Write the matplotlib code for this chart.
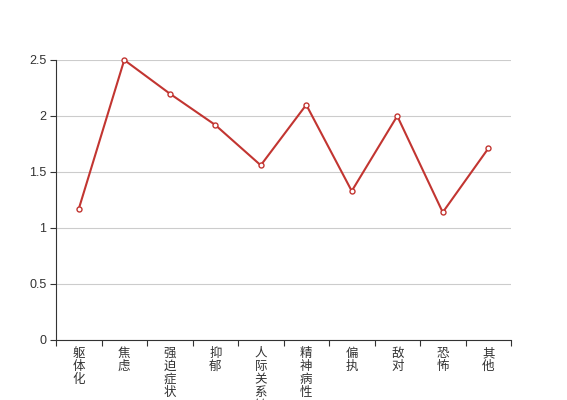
import matplotlib
matplotlib.use("Agg")
import matplotlib.pyplot as plt
import numpy as np

plt.rcParams['font.family'] = ['Noto Sans CJK SC', 'DejaVu Sans']

categories = ["躯体化", "焦虑", "强迫症状", "抑郁", "人际关系敏感", "精神病性", "偏执", "敌对", "恐怖", "其他"]
values = [1.17, 2.5, 2.2, 1.92, 1.56, 2.1, 1.33, 2.0, 1.14, 1.71]
y_ticks = [0, 0.5, 1, 1.5, 2, 2.5]
y_tick_labels = ["0", "0.5", "1", "1.5", "2", "2.5"]

fig = plt.figure(figsize=(5.67, 4.0), dpi=100)
ax = fig.add_axes([56/567, 60/400, (511-56)/567, 280/400])

x = np.arange(len(categories))
ax.plot(x, values, color='#c23531', lw=1.5, marker='o', ms=3.6,
        mfc='white', mec='#c23531', mew=1.0, zorder=3, clip_on=False)

ax.set_xlim(-0.5, len(categories) - 0.5)
ax.set_ylim(0, 2.5)

ax.set_yticks(y_ticks)
ax.set_yticklabels(y_tick_labels, fontsize=9, color='#333333', family=['Liberation Sans'])
ax.yaxis.grid(True, color='#cccccc', lw=0.8)
ax.set_axisbelow(True)

ax.set_xticks(x)
ax.set_xticklabels(['\n'.join(c) for c in categories], fontsize=9, color='#333333',
                   linespacing=1.0, va='top')
ax.tick_params(axis='x', which='major', length=0, pad=5)
ax.set_xticks(np.arange(-0.5, len(categories)), minor=True)
ax.tick_params(axis='x', which='minor', length=4, color='#333333', width=0.8, direction='out')
ax.tick_params(axis='y', length=4, color='#333333', width=0.8, pad=3)

for s in ['top', 'right']:
    ax.spines[s].set_visible(False)
for s in ['left', 'bottom']:
    ax.spines[s].set_color('#333333')
    ax.spines[s].set_linewidth(0.8)

fig.savefig('out.png', dpi=100)
